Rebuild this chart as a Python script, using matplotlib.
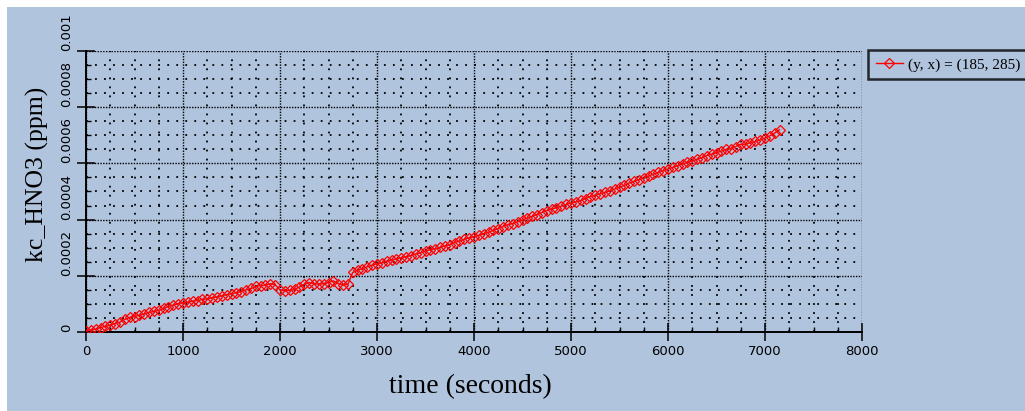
import matplotlib
matplotlib.use("Agg")
import matplotlib.pyplot as plt
from matplotlib.patches import Rectangle
from matplotlib.ticker import MultipleLocator
import numpy as np

# kc_HNO3 at grid point (y, x) = (185, 285)
time_s = list(range(0, 7200, 50))
kc_hno3_e4 = [
    0.05, 0.08, 0.10, 0.16, 0.20, 0.24, 0.30, 0.35, 0.45, 0.52,
    0.55, 0.59, 0.64, 0.70, 0.73, 0.77, 0.84, 0.90, 0.96, 1.01,
    1.04, 1.06, 1.10, 1.12, 1.16, 1.18, 1.22, 1.25, 1.29, 1.33,
    1.36, 1.40, 1.44, 1.50, 1.55, 1.62, 1.65, 1.66, 1.72, 1.68,
    1.50, 1.46, 1.48, 1.52, 1.60, 1.70, 1.76, 1.72, 1.70, 1.72,
    1.76, 1.82, 1.72, 1.67, 1.70, 2.12, 2.20, 2.25, 2.32, 2.38,
    2.43, 2.46, 2.52, 2.55, 2.60, 2.64, 2.68, 2.72, 2.78, 2.82,
    2.88, 2.93, 2.96, 3.01, 3.06, 3.10, 3.18, 3.24, 3.30, 3.35,
    3.39, 3.44, 3.50, 3.55, 3.62, 3.68, 3.75, 3.82, 3.86, 3.92,
    3.98, 4.06, 4.12, 4.18, 4.25, 4.32, 4.38, 4.42, 4.48, 4.54,
    4.59, 4.63, 4.68, 4.75, 4.82, 4.86, 4.92, 4.97, 5.02, 5.09,
    5.15, 5.22, 5.30, 5.36, 5.42, 5.49, 5.55, 5.62, 5.68, 5.74,
    5.80, 5.86, 5.92, 5.98, 6.04, 6.08, 6.15, 6.20, 6.28, 6.33,
    6.38, 6.44, 6.50, 6.52, 6.60, 6.68, 6.68, 6.74, 6.78, 6.83,
    6.90, 6.98, 7.08, 7.20,
]
kc_hno3 = np.array(kc_hno3_e4) * 1e-4

x_ticks = [0, 1000, 2000, 3000, 4000, 5000, 6000, 7000, 8000]
y_ticks = [0, 0.0002, 0.0004, 0.0006, 0.0008, 0.001]
y_tick_labels = ["0", "0.0002", "0.0004", "0.0006", "0.0008", "0.001"]
series_label = "(y, x) = (185, 285)"

bg = "#B0C4DE"
serif = ["Liberation Serif", "DejaVu Serif"]

fig = plt.figure(figsize=(10.25, 4.11), dpi=100, facecolor="white")
fig.patches.append(Rectangle((7 / 1025, 0), 1, 1 - 7 / 411, transform=fig.transFigure,
                             facecolor=bg, edgecolor="none", zorder=-10))
ax = fig.add_axes([86 / 1025, 1 - 332 / 411, (862 - 86) / 1025, (332 - 51) / 411])
ax.set_facecolor(bg)

ax.plot(time_s, kc_hno3, color="red", lw=1.0, marker="D", ms=5.5,
        mfc="none", mec="red", mew=0.9, label=series_label, zorder=3)

ax.set_xlim(0, 8000)
ax.set_ylim(0, 0.001)
ax.set_xticks(x_ticks)
ax.set_yticks(y_ticks)
ax.set_yticklabels(y_tick_labels, rotation=90, va="bottom")
ax.xaxis.set_minor_locator(MultipleLocator(250))
ax.yaxis.set_minor_locator(MultipleLocator(0.00005))

for s in ["top", "right"]:
    ax.spines[s].set_visible(False)
for s in ["left", "bottom"]:
    ax.spines[s].set_linewidth(1.4)

ax.tick_params(which="major", direction="inout", length=13, width=1.1, labelsize=9.5, pad=3)
ax.tick_params(which="minor", direction="in", length=3.5, width=1.0)
ax.tick_params(axis="y", which="major", pad=3)

ax.grid(which="major", color="black", lw=1.0, linestyle=(0, (1, 1)))
ax.grid(which="minor", color="black", lw=1.3, linestyle=(0, (1, 4)))
ax.set_axisbelow(True)

ax.set_xlabel("time (seconds)", fontsize=20, family=serif)
ax.set_ylabel("kc_HNO3 (ppm)", fontsize=18.5, family=serif)
ax.xaxis.set_label_coords(0.495, -0.15)
ax.yaxis.set_label_coords(-0.048, 0.56)

leg = fig.legend(loc="upper left", bbox_to_anchor=(868 / 1025, 1 - 50 / 411),
                 borderaxespad=0, prop={"family": serif, "size": 11},
                 fancybox=False, frameon=True, borderpad=0.5, handlelength=1.8,
                 handletextpad=0.3)
leg.get_frame().set_facecolor(bg)
leg.get_frame().set_edgecolor("black")
leg.get_frame().set_linewidth(1.8)

fig.savefig("out.png", dpi=100, facecolor="white")
